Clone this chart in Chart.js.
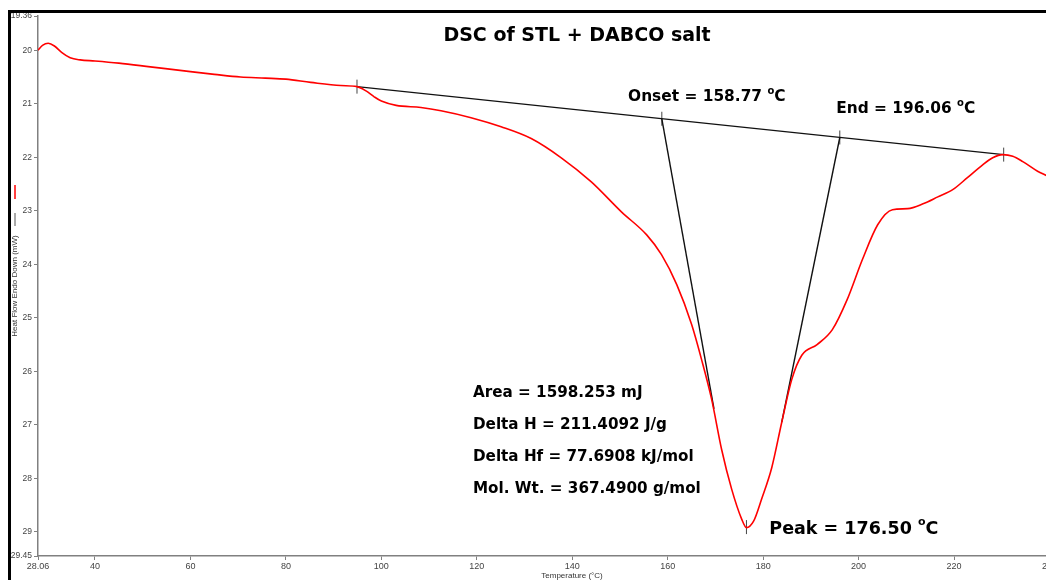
<!DOCTYPE html>
<html>
<head>
<meta charset="utf-8">
<title>DSC of STL + DABCO salt</title>
<script src="https://cdn.jsdelivr.net/npm/chart.js@4.4.1/dist/chart.umd.min.js"></script>
<style>
    html, body { margin: 0; padding: 0; background: #fff; overflow: hidden; }
    #wrap { position: relative; width: 1046px; height: 580px; overflow: hidden; background: #fff; }
    #dsc { position: absolute; left: 0; top: 0; }
    #frame { position: absolute; left: 8px; top: 10px; width: 1100px; height: 600px;
             border-top: 3px solid #000; border-left: 3px solid #000; pointer-events: none; }
</style>
</head>
<body>
<div id="wrap">
    <canvas id="dsc" width="1110" height="580" style="width:1110px;height:580px"></canvas>
    <div id="frame"></div>
</div>
<script>
// ===== ДАННЫЕ =====
const temps = [28.06, 29, 30.2, 31.5, 33, 34.8, 36.9, 40, 45, 51.6, 60, 65, 70.5, 75.7, 80, 85.2, 91.5, 94.9,
    96.8, 98.5, 100, 103.1, 108.3, 112.5, 118.8, 125.1, 131.4, 137.7, 144, 150.3, 155.6, 158.7, 161.9, 165,
    167.1, 169.2, 171.3, 173.4, 175.5, 176.5, 178, 179.7, 181.8, 183.9, 186, 188.1, 191.3, 194.5, 197.6,
    200.8, 204, 207.1, 210.3, 213.5, 216.6, 219.8, 222.8, 226, 228.1, 230.2, 232.3, 234.4, 237.5, 239.8, 242];
const heatFlow = [20.00, 19.91, 19.87, 19.92, 20.04, 20.14, 20.18, 20.20, 20.24, 20.31, 20.40, 20.45, 20.50, 20.52,
    20.54, 20.60, 20.66, 20.68, 20.76, 20.87, 20.95, 21.03, 21.07, 21.13, 21.26, 21.43, 21.65, 22.01, 22.46,
    23.02, 23.45, 23.82, 24.38, 25.12, 25.78, 26.52, 27.46, 28.20, 28.76, 28.92, 28.80, 28.38, 27.80, 26.95,
    26.15, 25.70, 25.50, 25.22, 24.66, 23.91, 23.26, 22.98, 22.96, 22.87, 22.74, 22.60, 22.38, 22.14, 22.01,
    21.95, 21.98, 22.08, 22.26, 22.36, 22.48];

// базовая линия и касательные
const baselinePts = [[94.9, 20.68], [230.4, 21.95]];
const onsetPts = [[158.77, 21.28], [169.7, 26.7]];
const endPts = [[196.06, 21.63], [183.9, 26.95]];
const markPts = [[94.9, 20.68], [230.4, 21.95], [158.77, 21.28], [196.06, 21.63], [176.5, 28.91]];

// подписи осей
const xTicks = [28.06, 40, 60, 80, 100, 120, 140, 160, 180, 200, 220, 240];
const yTicks = [19.36, 20, 21, 22, 23, 24, 25, 26, 27, 28, 29, 29.45];

const titleText = 'DSC of STL + DABCO salt';
const onsetText = 'Onset = 158.77 ^oC';
const endText = 'End = 196.06 ^oC';
const peakText = 'Peak = 176.50 ^oC';
const resultLines = ['Area = 1598.253 mJ', 'Delta H = 211.4092 J/g', 'Delta Hf = 77.6908 kJ/mol', 'Mol. Wt. = 367.4900 g/mol'];

const FONT = "'Liberation Sans', Arial, sans-serif";
const BOLD = "'DejaVu Sans', 'Liberation Sans', sans-serif";
const toXY = arr => arr.map(p => ({ x: p[0], y: p[1] }));

// текст с верхним индексом "^o"
function drawSup(ctx, text, x, y, size) {
    const parts = text.split('^o');
    ctx.font = 'bold ' + size + 'px ' + BOLD;
    ctx.fillText(parts[0], x, y);
    let cx = x + ctx.measureText(parts[0]).width;
    if (parts.length > 1) {
        ctx.font = 'bold ' + Math.round(size * 0.62) + 'px ' + BOLD;
        ctx.fillText('o', cx, y - size * 0.38);
        cx += ctx.measureText('o').width;
        ctx.font = 'bold ' + size + 'px ' + BOLD;
        ctx.fillText(parts[1], cx, y);
    }
}

const labelsPlugin = {
    id: 'dscLabels',
    afterDatasetsDraw(chart) {
        const ctx = chart.ctx;
        const sx = chart.scales.x, sy = chart.scales.y;
        const px = v => sx.getPixelForValue(v);
        const py = v => sy.getPixelForValue(v);
        ctx.save();
        ctx.fillStyle = '#000';
        ctx.textBaseline = 'middle';

        ctx.textAlign = 'center';
        ctx.font = 'bold 19px ' + BOLD;
        ctx.fillText(titleText, px(141.0), py(19.74));

        ctx.textAlign = 'left';
        drawSup(ctx, onsetText, px(151.7), py(20.88), 15.4);
        drawSup(ctx, endText, px(195.3), py(21.10), 15.4);
        drawSup(ctx, peakText, px(181.3), py(28.95), 17.5);

        ctx.font = 'bold 15.2px ' + BOLD;
        const rowsY = [26.40, 27.00, 27.60, 28.19];
        resultLines.forEach((t, i) => ctx.fillText(t, px(119.2), py(rowsY[i])));

        // подписи осей
        ctx.fillStyle = '#333';
        ctx.font = '8px ' + FONT;
        ctx.textAlign = 'center';
        ctx.fillText('Temperature (°C)', 572, 576);

        ctx.translate(15, 286);
        ctx.rotate(-Math.PI / 2);
        ctx.fillText('Heat Flow Endo Down (mW)', 0, 0);
        ctx.restore();

        // маркеры легенды
        ctx.save();
        ctx.lineWidth = 1.5;
        ctx.strokeStyle = '#ff0000';
        ctx.beginPath(); ctx.moveTo(15, 185); ctx.lineTo(15, 199); ctx.stroke();
        ctx.strokeStyle = '#555';
        ctx.lineWidth = 1;
        ctx.beginPath(); ctx.moveTo(15, 213); ctx.lineTo(15, 226); ctx.stroke();
        ctx.restore();
    }
};

new Chart(document.getElementById('dsc'), {
    type: 'line',
    data: {
        datasets: [
            {
                data: temps.map((t, i) => ({ x: t, y: heatFlow[i] })),
                borderColor: '#ff0000',
                borderWidth: 1.6,
                pointRadius: 0,
                cubicInterpolationMode: 'monotone',
                fill: false
            },
            { data: toXY(baselinePts), borderColor: '#111', borderWidth: 1.4, pointRadius: 0, fill: false },
            { data: toXY(onsetPts), borderColor: '#111', borderWidth: 1.4, pointRadius: 0, fill: false },
            { data: toXY(endPts), borderColor: '#111', borderWidth: 1.4, pointRadius: 0, fill: false },
            {
                data: toXY(markPts),
                showLine: false,
                pointStyle: 'line',
                rotation: 90,
                pointRadius: 7,
                borderColor: '#444',
                borderWidth: 1,
                backgroundColor: '#444'
            }
        ]
    },
    options: {
        responsive: false,
        animation: false,
        devicePixelRatio: 1,
        layout: { padding: { top: 16, right: 8, left: 0, bottom: 0 } },
        plugins: { legend: { display: false }, tooltip: { enabled: false } },
        scales: {
            x: {
                type: 'linear',
                min: 28.06,
                max: 251,
                afterBuildTicks: s => { s.ticks = xTicks.map(v => ({ value: v })); },
                afterFit: s => { s.height = 24; },
                ticks: {
                    autoSkip: false, maxRotation: 0, padding: 1,
                    color: '#444', font: { family: FONT, size: 9 },
                    callback: v => String(v)
                },
                grid: { drawOnChartArea: false, drawTicks: true, tickLength: 4, color: '#808080' },
                border: { color: '#808080', width: 1.5 }
            },
            y: {
                type: 'linear',
                reverse: true,
                min: 19.36,
                max: 29.45,
                afterBuildTicks: s => { s.ticks = yTicks.map(v => ({ value: v })); },
                afterFit: s => { s.width = 38; },
                ticks: {
                    autoSkip: false, padding: 2,
                    color: '#444', font: { family: FONT, size: 8.5 },
                    callback: v => String(v)
                },
                grid: { drawOnChartArea: false, drawTicks: true, tickLength: 4, color: '#808080' },
                border: { color: '#808080', width: 1.5 }
            }
        }
    },
    plugins: [labelsPlugin]
});
</script>
</body>
</html>
